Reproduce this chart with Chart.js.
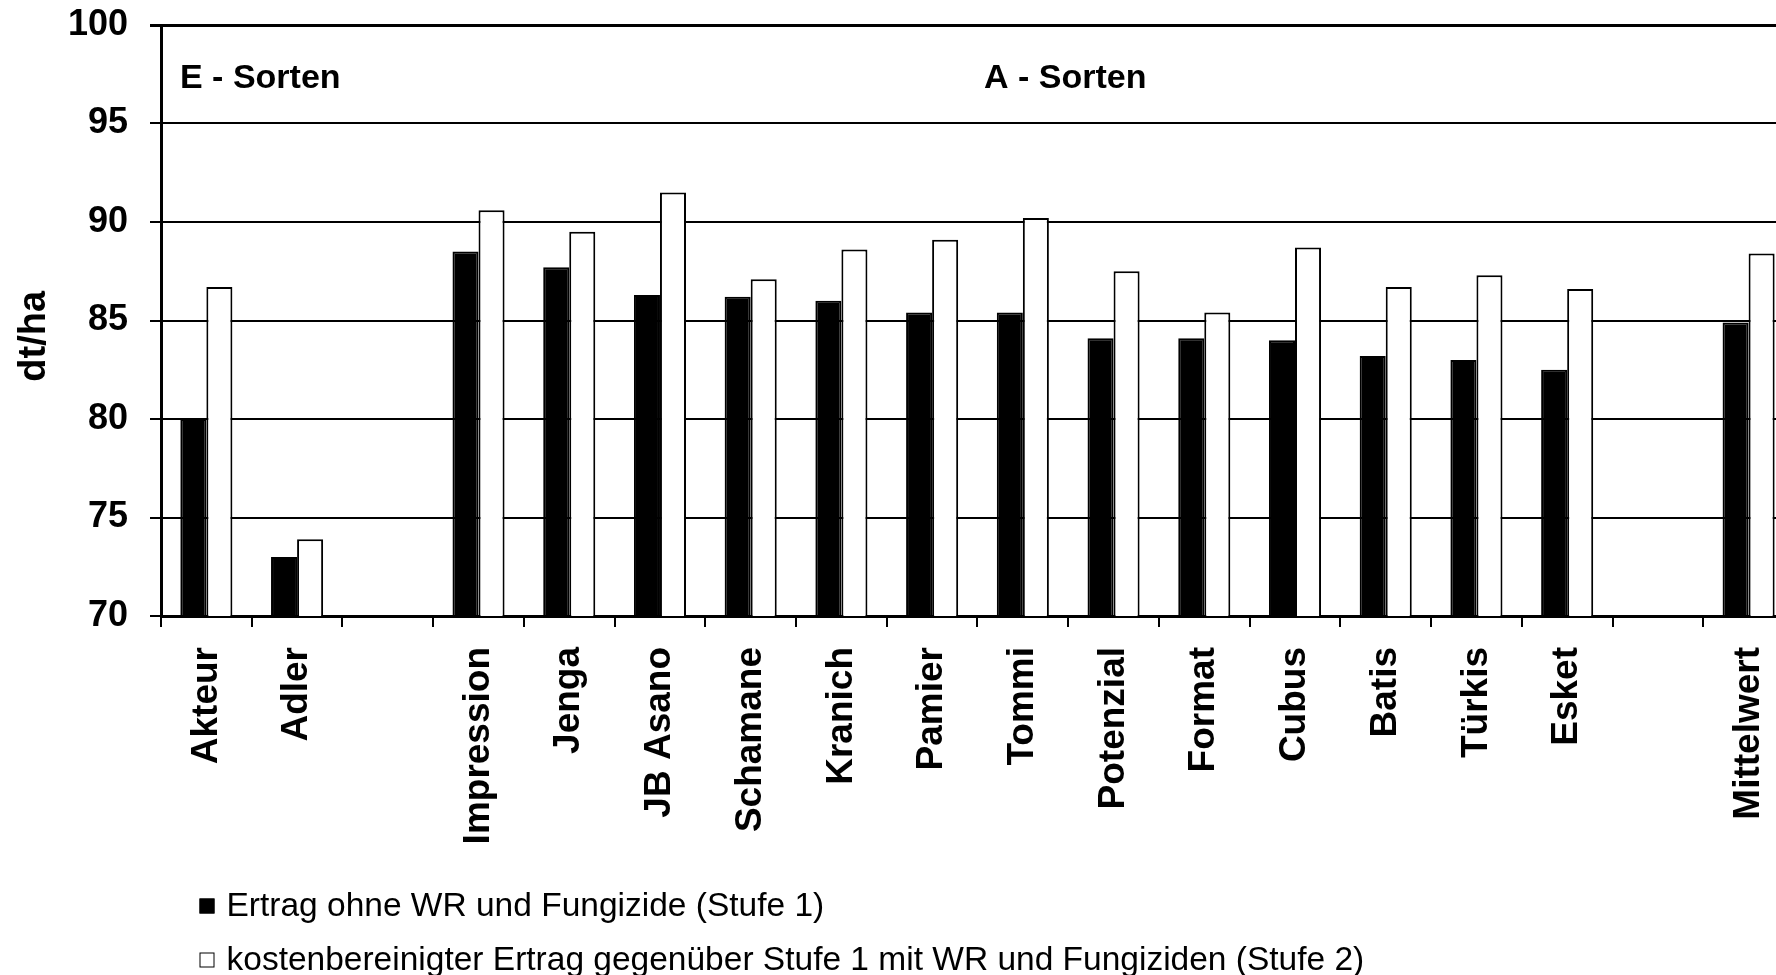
<!DOCTYPE html>
<html>
<head>
<meta charset="utf-8">
<script src="https://cdn.jsdelivr.net/npm/chart.js@4.4.1/dist/chart.umd.min.js"></script>
<style>
  html, body { margin: 0; padding: 0; background: #fff; overflow: hidden; }
  #wrap { width: 1813px; height: 975px; }
</style>
</head>
<body>
<div id="wrap"><canvas id="c" width="1813" height="975"></canvas></div>
<script>
// Sorten (empty strings leave a gap between the groups)
const sorten = ['Akteur', 'Adler', '', 'Impression', 'Jenga', 'JB Asano', 'Schamane', 'Kranich',
  'Pamier', 'Tommi', 'Potenzial', 'Format', 'Cubus', 'Batis', 'Türkis', 'Esket', '', 'Mittelwert'];

// Ertrag in dt/ha
const stufe1 = [80.0, 73.0, null, 88.5, 87.7, 86.3, 86.2, 86.0, 85.4, 85.4, 84.1, 84.1, 84.0, 83.2, 83.0, 82.5, null, 84.9];
const stufe2 = [86.7, 73.9, null, 90.6, 89.5, 91.5, 87.1, 88.6, 89.1, 90.2, 87.5, 85.4, 88.7, 86.7, 87.3, 86.6, null, 88.4];

const yRange = { min: 70, max: 100, step: 5 };
const seriesNames = [
  'Ertrag ohne WR und Fungizide (Stufe 1)',
  'kostenbereinigter Ertrag gegenüber Stufe 1 mit WR und Fungiziden (Stufe 2)'
];
const groupLabels = ['E - Sorten', 'A - Sorten'];
const yTitle = 'dt/ha';

const FONT = '"Liberation Sans", Arial, Helvetica, sans-serif';

// Group headings inside the plot area
const groupHeadings = {
  id: 'groupHeadings',
  afterDatasetsDraw(chart) {
    const { ctx, scales: { x, y }, chartArea } = chart;
    ctx.save();
    ctx.fillStyle = '#000';
    ctx.font = 'bold 34px ' + FONT;
    ctx.textBaseline = 'middle';
    const ty = y.getPixelForValue(97.3);
    ctx.textAlign = 'left';
    ctx.fillText(groupLabels[0], chartArea.left + 19, ty);
    ctx.textAlign = 'center';
    const ax = (x.getPixelForValue(9) + x.getPixelForValue(10)) / 2 - 3;
    ctx.fillText(groupLabels[1], ax, ty);
    ctx.restore();
  }
};

// Legend stacked as two rows below the axis labels
const stackedLegend = {
  id: 'stackedLegend',
  afterDraw(chart, args, opts) {
    const ctx = chart.ctx;
    chart.data.datasets.forEach((ds, i) => {
      const cy = opts.top + i * opts.rowGap;
      ctx.save();
      ctx.fillStyle = ds.backgroundColor;
      ctx.fillRect(opts.left, cy - 7.5, 15, 15);
      ctx.strokeStyle = '#000';
      ctx.lineWidth = 1;
      ctx.strokeRect(opts.left + 0.5, cy - 7, 14, 14);
      ctx.fillStyle = '#000';
      ctx.font = opts.font;
      ctx.textBaseline = 'middle';
      ctx.textAlign = 'left';
      ctx.fillText(ds.label, opts.left + 27, cy + 1);
      ctx.restore();
    });
  }
};

new Chart(document.getElementById('c'), {
  type: 'bar',
  data: {
    labels: sorten,
    datasets: [
      { label: seriesNames[0], data: stufe1, backgroundColor: '#000000', borderColor: '#000000', borderWidth: 2 },
      { label: seriesNames[1], data: stufe2, backgroundColor: '#ffffff', borderColor: '#000000', borderWidth: 2 }
    ]
  },
  options: {
    responsive: false,
    animation: false,
    devicePixelRatio: 1,
    layout: { padding: { top: 25, right: 0, bottom: 0, left: 0 } },
    datasets: { bar: { categoryPercentage: 0.574, barPercentage: 1.0 } },
    plugins: {
      legend: { display: false },
      tooltip: { enabled: false },
      stackedLegend: { left: 199.5, top: 906, rowGap: 54, font: '33.5px ' + FONT }
    },
    scales: {
      x: {
        afterFit(scale) { scale.height = 359; },
        grid: { display: true, offset: true, drawOnChartArea: false, drawTicks: true,
                tickLength: 11, color: '#000', lineWidth: 2 },
        border: { display: true, color: '#000', width: 3 },
        ticks: { autoSkip: false, minRotation: 90, maxRotation: 90, padding: 20,
                 color: '#000', font: { family: FONT, size: 37, weight: 'bold' } }
      },
      y: {
        min: yRange.min, max: yRange.max,
        afterFit(scale) {
          scale.width = 161;
          scale.paddingTop = 0;
          scale.paddingBottom = 0;
        },
        grid: { color: '#000', lineWidth: (c) => (c.tick && c.tick.value === yRange.max ? 3 : 2),
                tickLength: 11 },
        border: { display: true, color: '#000', width: 3 },
        ticks: { stepSize: yRange.step, padding: 22, color: '#000',
                 font: { family: FONT, size: 36, weight: 'bold' } },
        title: { display: true, text: yTitle + '   ', color: '#000', padding: { top: 12, bottom: 0 },
                 font: { family: FONT, size: 38, weight: 'bold' } }
      }
    }
  },
  plugins: [groupHeadings, stackedLegend]
});
</script>
</body>
</html>
